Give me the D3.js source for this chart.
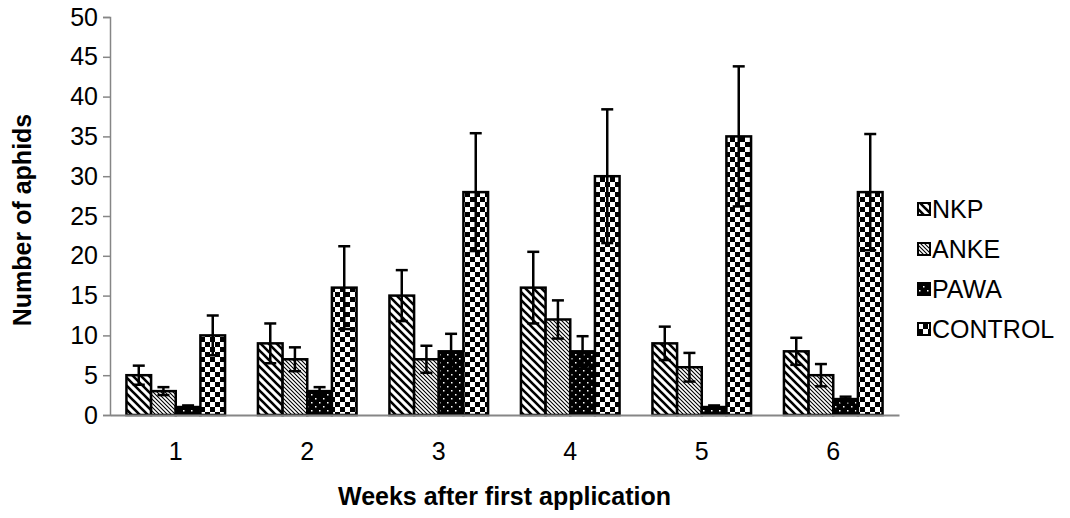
<!DOCTYPE html>
<html>
<head>
<meta charset="utf-8">
<script src="https://cdn.jsdelivr.net/npm/d3@7"></script>
<style>
  body { margin: 0; background: #fff; }
  text { font-family: "Liberation Sans", Arial, sans-serif; }
</style>
</head>
<body>
<svg id="chart" width="1070" height="518"></svg>
<script>
// data
var weeks = ["1", "2", "3", "4", "5", "6"];
var seriesNames = ["NKP", "ANKE", "PAWA", "CONTROL"];
var nkp = [5, 9, 15, 16, 9, 8];
var anke = [3, 7, 7, 12, 6, 5];
var pawa = [1, 3, 8, 8, 1, 2];
var control = [10, 16, 28, 30, 35, 28];
var nkpErr = [1.2, 2.5, 3.2, 4.5, 2.1, 1.7];
var ankeErr = [0.5, 1.5, 1.7, 2.4, 1.8, 1.4];
var pawaErr = [0.2, 0.5, 2.2, 1.9, 0.2, 0.3];
var controlErr = [2.5, 5.2, 7.4, 8.4, 8.8, 7.3];
var yTicks = [0, 5, 10, 15, 20, 25, 30, 35, 40, 45, 50];

var values = [nkp, anke, pawa, control];
var errors = [nkpErr, ankeErr, pawaErr, controlErr];

var svg = d3.select("#chart"),
    margin = {top: 17, right: 171, bottom: 103, left: 110},
    width = +svg.attr("width") - margin.left - margin.right,
    height = +svg.attr("height") - margin.top - margin.bottom;

// fill patterns
var defs = svg.append("defs");
function pat(id, w, h) {
  return defs.append("pattern").attr("id", id)
    .attr("patternUnits", "userSpaceOnUse").attr("width", w).attr("height", h);
}
// wide back-diagonal stripes
var p1 = pat("p-nkp", 8, 8);
p1.append("rect").attr("width", 8).attr("height", 8).attr("fill", "#fff");
p1.append("path").attr("d", "M-2,-2 L10,10 M-2,6 L2,10 M6,-2 L10,2")
  .attr("stroke", "#000").attr("stroke-width", 2.6);
// fine back-diagonal stripes
var p2 = pat("p-anke", 4, 4);
p2.append("rect").attr("width", 4).attr("height", 4).attr("fill", "#fff");
p2.append("path").attr("d", "M-1,-1 L5,5 M-1,3 L1,5 M3,-1 L5,1")
  .attr("stroke", "#000").attr("stroke-width", 1.1);
// black with small white dots
var p3 = pat("p-pawa", 8, 8);
p3.append("rect").attr("width", 8).attr("height", 8).attr("fill", "#000");
p3.append("rect").attr("x", 1).attr("y", 1).attr("width", 1.5).attr("height", 1.5).attr("fill", "#fff");
p3.append("rect").attr("x", 5).attr("y", 5).attr("width", 1.5).attr("height", 1.5).attr("fill", "#fff");
// checkerboard
var p4 = pat("p-control", 10, 10);
p4.append("rect").attr("width", 10).attr("height", 10).attr("fill", "#fff");
p4.append("rect").attr("width", 5).attr("height", 5).attr("fill", "#000");
p4.append("rect").attr("x", 5).attr("y", 5).attr("width", 5).attr("height", 5).attr("fill", "#000");
var fills = ["url(#p-nkp)", "url(#p-anke)", "url(#p-pawa)", "url(#p-control)"];

var g = svg.append("g").attr("transform", "translate(" + margin.left + "," + margin.top + ")");

var x = d3.scaleBand().domain(weeks).range([0, width]);
// the group of four bars fills the middle 75% of each band
var xs = d3.scaleBand().domain(seriesNames)
  .range([x.bandwidth() * 0.125, x.bandwidth() * 0.875]);
var y = d3.scaleLinear().domain([0, 50]).range([height, 0]);

// y axis
var yAxis = g.append("g").call(d3.axisLeft(y).tickValues(yTicks).tickSize(7).tickPadding(5));
yAxis.select(".domain").attr("stroke", "#868686").attr("stroke-width", 1.5);
yAxis.selectAll(".tick line").attr("stroke", "#868686").attr("stroke-width", 1.5);
yAxis.selectAll("text").attr("font-size", 25).attr("fill", "#000")
  .style("font-family", "'Liberation Sans', Arial, sans-serif");

// bars
var rows = [];
weeks.forEach(function (w, i) {
  seriesNames.forEach(function (s, j) {
    rows.push({week: w, series: s, idx: j, v: values[j][i], e: errors[j][i]});
  });
});

g.selectAll("rect.bar").data(rows).enter().append("rect")
  .attr("class", "bar")
  .attr("x", function (d) { return x(d.week) + xs(d.series); })
  .attr("y", function (d) { return y(d.v); })
  .attr("width", xs.bandwidth())
  .attr("height", function (d) { return y(0) - y(d.v); })
  .attr("fill", function (d) { return fills[d.idx]; })
  .attr("stroke", "#000").attr("stroke-width", 2.5);

// error bars
var eb = g.selectAll("g.err").data(rows).enter().append("g").attr("class", "err")
  .attr("transform", function (d) { return "translate(" + (x(d.week) + xs(d.series) + xs.bandwidth() / 2) + ",0)"; });
eb.append("line")
  .attr("y1", function (d) { return y(d.v + d.e); })
  .attr("y2", function (d) { return y(Math.max(0, d.v - d.e)); })
  .attr("stroke", "#000").attr("stroke-width", 2.5);
eb.append("line")
  .attr("x1", -6).attr("x2", 6)
  .attr("y1", function (d) { return y(d.v + d.e); })
  .attr("y2", function (d) { return y(d.v + d.e); })
  .attr("stroke", "#000").attr("stroke-width", 2.5);
eb.append("line")
  .attr("x1", -6).attr("x2", 6)
  .attr("y1", function (d) { return y(Math.max(0, d.v - d.e)); })
  .attr("y2", function (d) { return y(Math.max(0, d.v - d.e)); })
  .attr("stroke", "#000").attr("stroke-width", 2.5);

// x axis
var xAxis = g.append("g").attr("transform", "translate(0," + height + ")")
  .call(d3.axisBottom(x).tickSize(0).tickPadding(27));
xAxis.select(".domain").attr("stroke", "#868686").attr("stroke-width", 2);
xAxis.selectAll("text").attr("font-size", 25).attr("fill", "#000")
  .style("font-family", "'Liberation Sans', Arial, sans-serif");

// axis titles
svg.append("text")
  .attr("x", margin.left + width / 2).attr("y", 505)
  .attr("text-anchor", "middle").attr("font-size", 25).attr("font-weight", "bold")
  .text("Weeks after first application");
svg.append("text")
  .attr("transform", "translate(31,220) rotate(-90)")
  .attr("text-anchor", "middle").attr("font-size", 25).attr("font-weight", "bold")
  .text("Number of aphids");

// legend
var legend = svg.append("g").attr("transform", "translate(918,209)");
var li = legend.selectAll("g").data(seriesNames).enter().append("g")
  .attr("transform", function (d, i) { return "translate(0," + (i * 40) + ")"; });
li.append("rect").attr("x", 0).attr("y", -6).attr("width", 12).attr("height", 12)
  .attr("fill", function (d, i) { return fills[i]; })
  .attr("stroke", "#000").attr("stroke-width", 2);
li.append("text").attr("x", 14).attr("y", 9).attr("font-size", 25)
  .text(function (d) { return d; });
</script>
</body>
</html>
